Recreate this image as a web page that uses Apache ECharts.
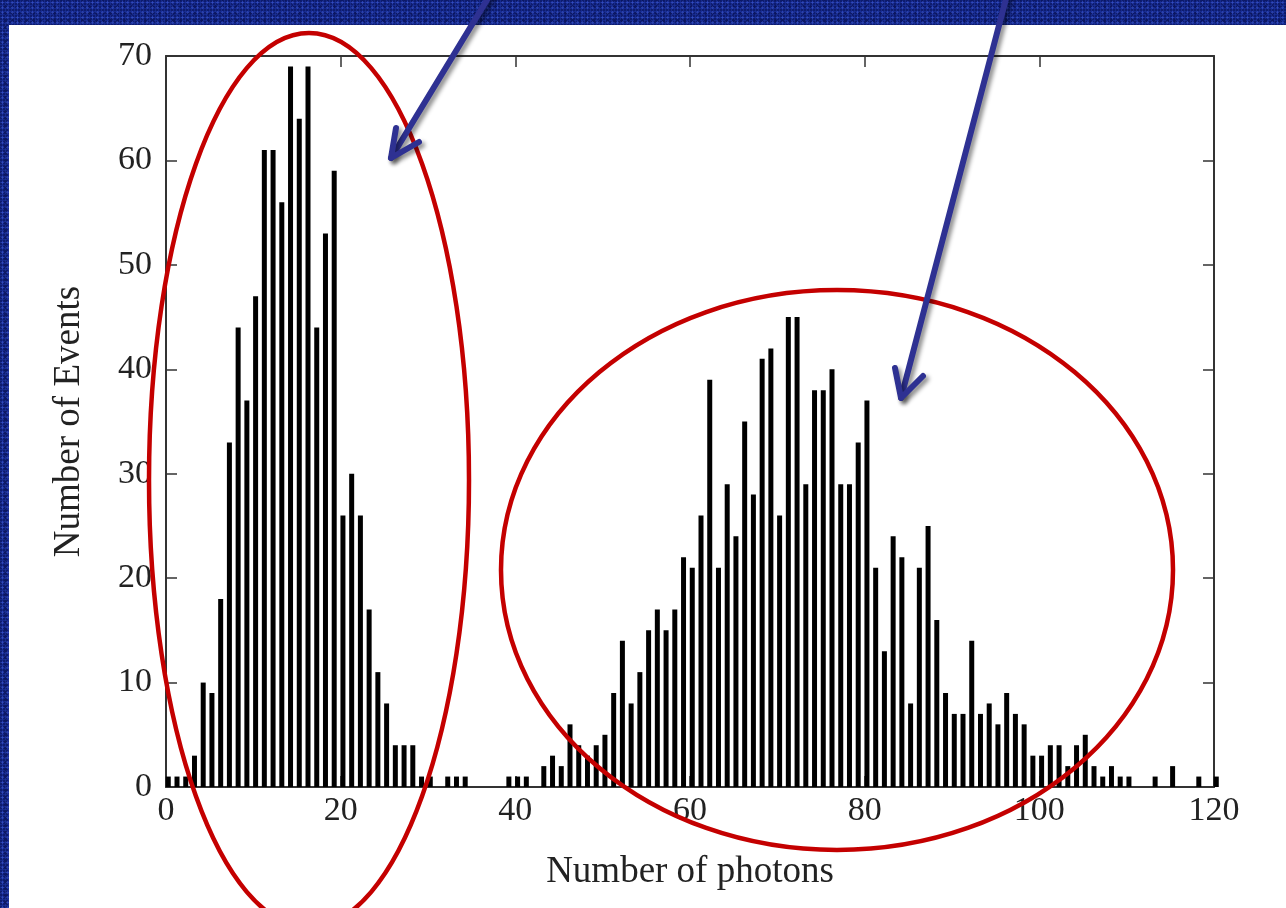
<!DOCTYPE html>
<html>
<head>
<meta charset="utf-8">
<script src="https://cdn.jsdelivr.net/npm/echarts@6/dist/echarts.min.js"></script>
<style>
html,body{margin:0;padding:0;width:1286px;height:908px;overflow:hidden;}
body{
  background-color:#0d1a6a;
  background-image:
    radial-gradient(rgba(70,100,230,0.55) 0.8px, transparent 1.4px),
    radial-gradient(rgba(10,20,90,0.8) 1px, transparent 1.6px),
    radial-gradient(rgba(40,70,200,0.5) 0.8px, transparent 1.5px);
  background-size:5px 5px, 7px 7px, 3px 3px;
  background-position:0 0, 2px 3px, 1px 1px;
}
#panel{position:absolute;left:9px;top:25px;width:1277px;height:883px;background:#fff;}
#chart{position:absolute;left:0;top:0;width:1286px;height:908px;}
</style>
</head>
<body>
<div id="panel"></div>
<div id="chart"></div>
<script>
// Histogram: number of events per photon-count bin
const photonBins = [];
for (let i = 0; i <= 120; i++) photonBins.push(i);
const eventCounts = [
  1,1,1,3,10,9,18,33,44,37,            // 0-9
  47,61,61,56,69,64,69,44,53,59,       // 10-19
  26,30,26,17,11,8,4,4,4,1,            // 20-29
  1,0,1,1,1,0,0,0,0,1,                 // 30-39
  1,1,0,2,3,2,6,4,3,4,                 // 40-49
  5,9,14,8,11,15,17,15,17,22,          // 50-59
  21,26,39,21,29,24,35,28,41,42,       // 60-69
  26,45,45,29,38,38,40,29,29,33,       // 70-79
  37,21,13,24,22,8,21,25,16,9,         // 80-89
  7,7,14,7,8,6,9,7,6,3,                // 90-99
  3,4,4,2,4,5,2,1,2,1,                 // 100-109
  1,0,0,1,0,2,0,0,1,0,                 // 110-119
  1                                    // 120
];
const xTicks = [0, 20, 40, 60, 80, 100, 120];
const yTicks = [0, 10, 20, 30, 40, 50, 60, 70];
const xTitle = 'Number of photons';
const yTitle = 'Number of Events';

const FONT = '"Liberation Serif", "DejaVu Serif", serif';
const AXIS_COLOR = '#333';
const RED = '#c40000';
const BLUE = '#2e3192';

const barData = photonBins.map((b, i) => [b + 0.26, eventCounts[i]]);

const chart = echarts.init(document.getElementById('chart'), null, {renderer: 'canvas'});

function axisBase() {
  return {
    type: 'value',
    splitLine: {show: false},
    axisLine: {show: true, onZero: false, lineStyle: {color: AXIS_COLOR, width: 2}},
    axisTick: {show: true, inside: true, length: 11, lineStyle: {color: AXIS_COLOR, width: 1.5}}
  };
}

const arrowStyle = {stroke: BLUE, lineWidth: 6, lineCap: 'round', lineJoin: 'round',
  shadowBlur: 4, shadowColor: 'rgba(0,0,0,0.45)', shadowOffsetX: 3, shadowOffsetY: 3, fill: null};

chart.setOption({
  animation: false,
  grid: {left: 166, top: 56, width: 1048, height: 731, containLabel: false},
  xAxis: [
    Object.assign(axisBase(), {
      min: xTicks[0], max: xTicks[xTicks.length - 1], interval: xTicks[1] - xTicks[0],
      position: 'bottom',
      name: xTitle, nameLocation: 'middle', nameGap: 67,
      nameTextStyle: {fontFamily: FONT, fontSize: 37, color: '#222'},
      axisLabel: {fontFamily: FONT, fontSize: 34, color: '#222', margin: 7}
    }),
    Object.assign(axisBase(), {
      min: xTicks[0], max: xTicks[xTicks.length - 1], interval: xTicks[1] - xTicks[0],
      position: 'top', axisLabel: {show: false}
    })
  ],
  yAxis: [
    Object.assign(axisBase(), {
      min: yTicks[0], max: yTicks[yTicks.length - 1], interval: yTicks[1] - yTicks[0],
      position: 'left',
      name: yTitle, nameLocation: 'middle', nameGap: 78, nameRotate: 90,
      nameTextStyle: {fontFamily: FONT, fontSize: 37, color: '#222'},
      axisLabel: {fontFamily: FONT, fontSize: 34, color: '#222', margin: 14}
    }),
    Object.assign(axisBase(), {
      min: yTicks[0], max: yTicks[yTicks.length - 1], interval: yTicks[1] - yTicks[0],
      position: 'right', axisLabel: {show: false}
    })
  ],
  series: [{
    type: 'bar',
    xAxisIndex: 0,
    yAxisIndex: 0,
    data: barData,
    barWidth: 5,
    clip: false,
    itemStyle: {color: '#000'},
    silent: true
  }],
  graphic: [
    {type: 'ellipse', z: 100, shape: {cx: 309, cy: 480, rx: 160, ry: 447},
     style: {stroke: RED, lineWidth: 4.5, fill: null}},
    {type: 'ellipse', z: 100, shape: {cx: 837, cy: 570, rx: 336, ry: 280},
     style: {stroke: RED, lineWidth: 4.5, fill: null}},
    {type: 'line', z: 101, shape: {x1: 490, y1: -5, x2: 391, y2: 158}, style: arrowStyle},
    {type: 'polyline', z: 101, shape: {points: [[396, 128], [391, 158], [419, 142]]}, style: arrowStyle},
    {type: 'line', z: 101, shape: {x1: 1007, y1: -5, x2: 901, y2: 398}, style: arrowStyle},
    {type: 'polyline', z: 101, shape: {points: [[895, 368], [901, 398], [923, 376]]}, style: arrowStyle}
  ]
});
</script>
</body>
</html>
